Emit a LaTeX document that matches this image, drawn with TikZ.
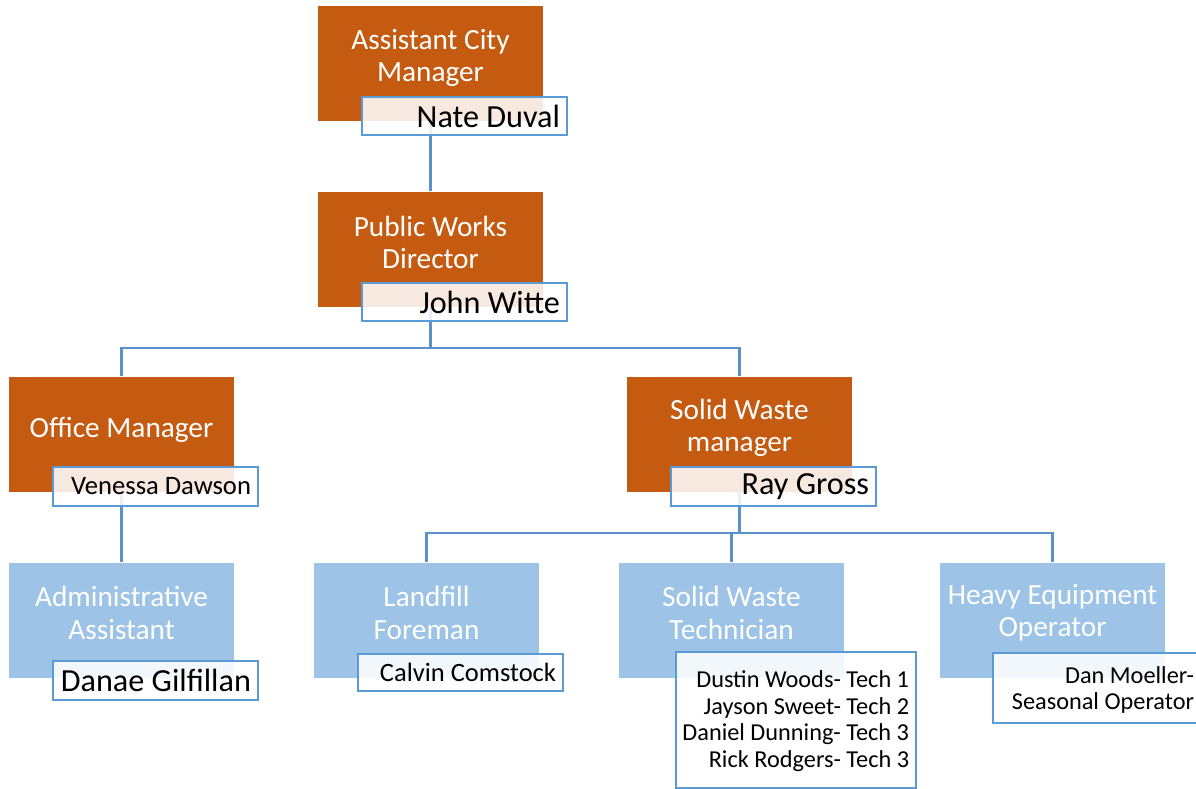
\documentclass[tikz,border=0pt]{standalone}
\usepackage{fontspec}
\setmainfont{Carlito}
\usetikzlibrary{backgrounds}
\definecolor{rust}{HTML}{C55A11}
\definecolor{sky}{HTML}{9DC3E6}
\definecolor{edge}{HTML}{5B9BD5}
\definecolor{wire}{HTML}{5A91C9}
\begin{document}
\begin{tikzpicture}[x=1pt, y=-1pt,
  headbox/.style={fill=rust, minimum width=225pt, minimum height=115pt, inner sep=0pt},
  staffbox/.style={fill=sky, minimum width=225pt, minimum height=115pt, inner sep=0pt},
  title/.style={text=white, align=center, font=\fontsize{29.3}{32.5}\selectfont},
  nameframe/.style={draw=edge, line width=2.6pt, fill=white, fill opacity=0.87, text opacity=1,
    inner xsep=7pt, inner ysep=0pt},
  namebox/.style={nameframe, minimum height=38pt, text width=191pt, align=flush right},
  bigname/.style={font=\fontsize{32.2}{36}\selectfont},
  smallname/.style={font=\fontsize{24.3}{26.6}\selectfont},
  link/.style={draw=wire, line width=2.6pt}]
\useasboundingbox (0,0) rectangle (1196,789);
% top two levels
\node[headbox] (acm) at (430.5,63.5) {};
\node[title] at ([yshift=5.5pt]acm.center) {Assistant City\\Manager};
\node[namebox, bigname] (acmname) at (464.5,116) {Nate Duval};
\node[headbox] (pwd) at (430.5,249) {};
\node[title] at ([yshift=6.5pt]pwd.center) {Public Works\\Director};
\node[namebox, bigname] (pwdname) at (464.5,302) {John Witte};
% managers
\node[headbox] (om) at (121.5,434) {};
\node[title] at ([yshift=4pt]om.center) {Office Manager};
\node[namebox, font=\fontsize{26.6}{30}\selectfont, minimum height=39pt] (omname) at (155.5,486.5) {Venessa Dawson};
\node[headbox] (swm) at (739.5,434) {};
\node[title] at ([yshift=6pt]swm.center) {Solid Waste\\manager};
\node[namebox, bigname, minimum height=39pt] (swmname) at (773.5,486.5) {Ray Gross};
% staff
\node[staffbox] (aa) at (121.5,620) {};
\node[title] at ([yshift=7pt]aa.center) {Administrative\\Assistant};
\node[namebox, bigname, minimum height=39pt] (aaname) at (155.5,680.5) {Danae Gilfillan};
\node[staffbox] (lf) at (426.5,620) {};
\node[title] at ([yshift=7pt]lf.center) {Landfill\\Foreman};
\node[namebox, font=\fontsize{26.5}{30}\selectfont, minimum height=37pt] (lfname) at (460.5,672.5) {Calvin Comstock};
\node[staffbox] (swt) at (731.5,620) {};
\node[title] at ([yshift=7pt]swt.center) {Solid Waste\\Technician};
\node[nameframe, minimum width=240pt, minimum height=136pt] (swtname) at (796,720) {};
\node[smallname, anchor=east, align=flush right, inner sep=0pt] at ([xshift=-8pt,yshift=-1pt]swtname.east)
  {Dustin Woods- Tech 1\\Jayson Sweet- Tech 2\\Daniel Dunning- Tech 3\\Rick Rodgers- Tech 3};
\node[staffbox] (heo) at (1052.5,620) {};
\node[title] at ([yshift=7pt]heo.center) {Heavy Equipment\\Operator};
\node[nameframe, minimum width=207pt, minimum height=70pt] (heoname) at (1096.5,688) {};
\node[font=\fontsize{24.3}{26.3}\selectfont, anchor=east, align=flush right, inner sep=0pt]
  at ([xshift=-7pt,yshift=-2pt]heoname.east) {Dan Moeller-\\Seasonal Operator};
% connectors
\coordinate (bus1) at (430.5,348);
\coordinate (bus2) at (739.5,533);
\begin{pgfonlayer}{background}
\draw[link] (acm) -- (pwd);
\draw[link] (pwd) -- (bus1) -| (om.north);
\draw[link] (bus1) -| (swm.north);
\draw[link] (om) -- (aa);
\draw[link] (swm) -- (bus2) -| (lf.north);
\draw[link] (bus2) -| (swt.north);
\draw[link] (bus2) -| (heo.north);
\end{pgfonlayer}
\end{tikzpicture}
\end{document}
